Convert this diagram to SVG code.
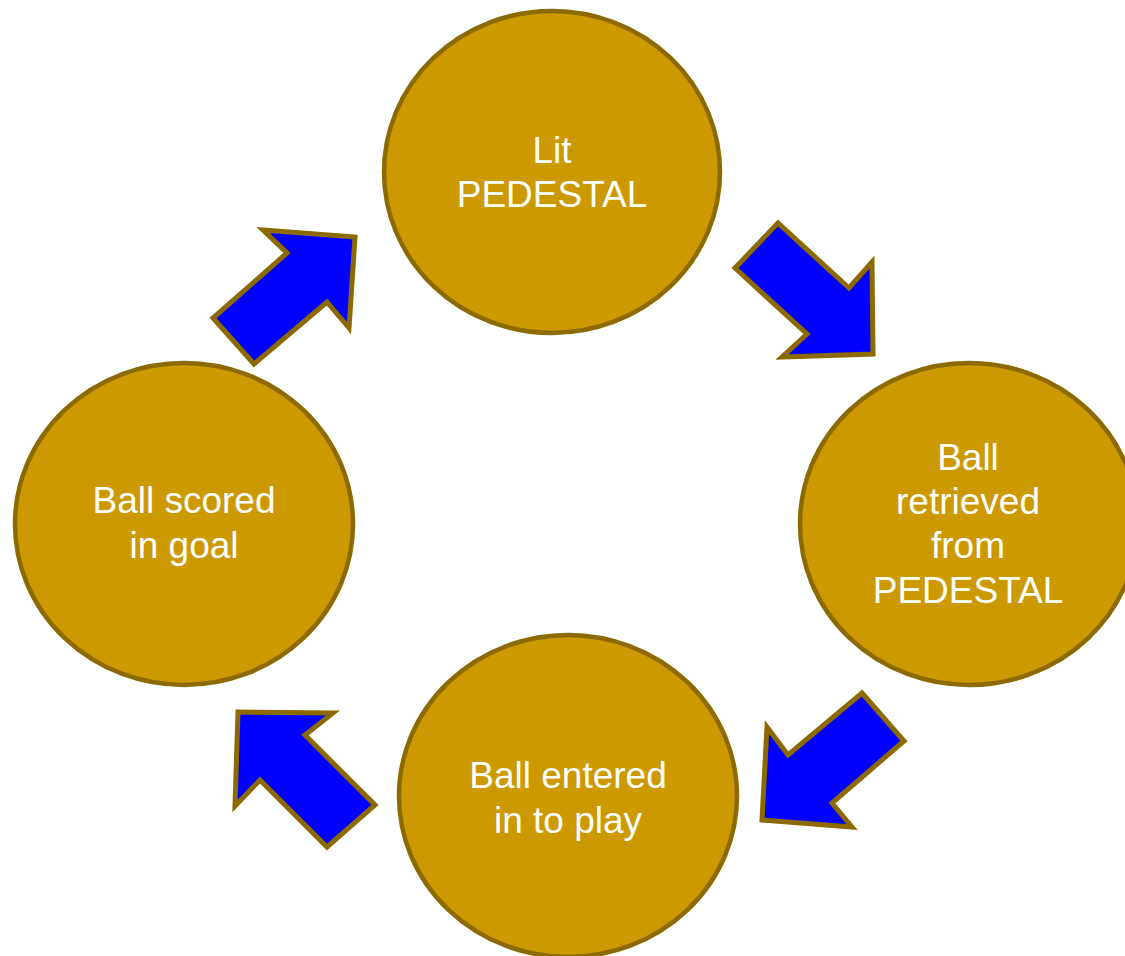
<svg xmlns="http://www.w3.org/2000/svg" width="1125" height="956" viewBox="0 0 1125 956">
<style>
.node{fill:#CC9900;stroke:#8C6A00;stroke-width:4.5}
.arrow{fill:#0000FF;stroke:#8C6A00;stroke-width:5;stroke-linejoin:miter}
.lbl{font-family:"Liberation Sans",Arial,sans-serif;font-size:37px;fill:#FFFFFF;text-anchor:middle}
</style>
<rect width="1125" height="956" fill="#FFFFFF"/>
<g id="connectors">
<polygon class="arrow" points="263,230 355,237 349,328 327,302 254,364 213,318 287,253"/>
<polygon class="arrow" points="778,223 735,268 807,334 782,357 873,354 872,262 849,288"/>
<polygon class="arrow" points="862,693 904,741 832,803 852,827 762,820 767,727 788,755"/>
<polygon class="arrow" points="333,713 238,712 235,806 260,780 327,847 375,805 305,735"/>
</g>
<g id="node-lit">
<ellipse class="node" cx="552" cy="172" rx="168" ry="161"/>
<text class="lbl" x="552" y="163">Lit</text>
<text class="lbl" x="552" y="207">PEDESTAL</text>
</g>
<g id="node-retrieved">
<ellipse class="node" cx="969" cy="524" rx="169" ry="161"/>
<text class="lbl" x="968" y="470">Ball</text>
<text class="lbl" x="968" y="514">retrieved</text>
<text class="lbl" x="968" y="558">from</text>
<text class="lbl" x="968" y="603">PEDESTAL</text>
</g>
<g id="node-entered">
<ellipse class="node" cx="568" cy="796" rx="169" ry="161"/>
<text class="lbl" x="568" y="788">Ball entered</text>
<text class="lbl" x="568" y="833">in to play</text>
</g>
<g id="node-scored">
<ellipse class="node" cx="184" cy="524" rx="169" ry="161"/>
<text class="lbl" x="184" y="513">Ball scored</text>
<text class="lbl" x="184" y="558">in goal</text>
</g>
</svg>
